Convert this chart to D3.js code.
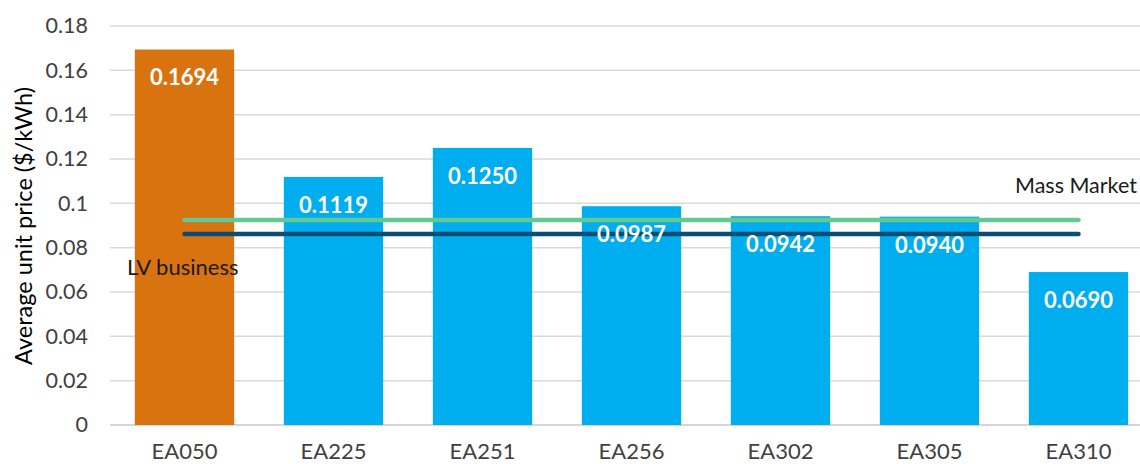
<!DOCTYPE html>
<html>
<head>
<meta charset="utf-8">
<script src="https://cdn.jsdelivr.net/npm/d3@7/dist/d3.min.js"></script>
<style>
  html, body { margin: 0; padding: 0; background: #ffffff; }
  svg { display: block; font-family: Lato, "Open Sans", sans-serif; }
</style>
</head>
<body>
<svg id="chart" width="1140" height="464"></svg>
<script>
// Average unit price per tariff, with segment benchmarks
const categories = ["EA050", "EA225", "EA251", "EA256", "EA302", "EA305", "EA310"];
const prices = [0.1694, 0.1119, 0.1250, 0.0987, 0.0942, 0.0940, 0.0690];
const benchmarkNames = ["Mass Market", "LV business"];
const benchmarkValues = [0.0925, 0.0862];
const yTicks = [0, 0.02, 0.04, 0.06, 0.08, 0.1, 0.12, 0.14, 0.16, 0.18];

const svg = d3.select("#chart");
const plotLeft = 110, plotRight = 1153, plotTop = 26, plotBottom = 425;

const x = d3.scaleBand()
  .domain(categories)
  .range([plotLeft, plotRight])
  .paddingInner(1 / 3)
  .paddingOuter(1 / 6);

const y = d3.scaleLinear().domain([0, 0.18]).range([plotBottom, plotTop]);

// Horizontal gridlines
svg.append("g")
  .selectAll("line")
  .data(yTicks)
  .join("line")
  .attr("x1", plotLeft)
  .attr("x2", 1140)
  .attr("y1", d => y(d))
  .attr("y2", d => y(d))
  .attr("stroke", d => d === 0 ? "#c8c8c8" : "#d9d9d9")
  .attr("stroke-width", 1.5);

// Y axis tick labels
const yAxis = d3.axisLeft(y)
  .tickValues(yTicks)
  .tickSize(0)
  .tickPadding(0)
  .tickFormat(d => String(+d.toFixed(2)));
const gy = svg.append("g")
  .attr("transform", "translate(88,0)")
  .call(yAxis);
gy.select(".domain").remove();
gy.selectAll("text")
  .attr("font-family", "Lato, sans-serif")
  .attr("font-size", 21.5)
  .attr("fill", "#404040");

// X axis category labels
const xAxis = d3.axisBottom(x).tickSize(0).tickPadding(0);
const gx = svg.append("g")
  .attr("transform", `translate(0,${plotBottom + 18})`)
  .call(xAxis);
gx.select(".domain").remove();
gx.selectAll("text")
  .attr("font-family", "Lato, sans-serif")
  .attr("font-size", 22)
  .attr("fill", "#404040");

// Y axis title
svg.append("text")
  .attr("transform", "translate(32,226) rotate(-90)")
  .attr("text-anchor", "middle")
  .attr("font-size", 23.5)
  .attr("fill", "#000000")
  .text("Average unit price ($/kWh)");

// Bars
svg.append("g")
  .selectAll("rect")
  .data(categories)
  .join("rect")
  .attr("x", d => x(d))
  .attr("width", x.bandwidth())
  .attr("y", (d, i) => y(prices[i]))
  .attr("height", (d, i) => y(0) - y(prices[i]))
  .attr("fill", (d, i) => i === 0 ? "#D9730F" : "#00AEEF");

// Benchmark lines across the category centres
const lineColors = ["#62C993", "#0C4E73"];
const xStart = x(categories[0]) + x.bandwidth() / 2;
const xEnd = x(categories[categories.length - 1]) + x.bandwidth() / 2;
svg.append("g")
  .selectAll("line")
  .data(benchmarkValues)
  .join("line")
  .attr("x1", xStart)
  .attr("x2", xEnd)
  .attr("y1", d => y(d))
  .attr("y2", d => y(d))
  .attr("stroke", (d, i) => lineColors[i])
  .attr("stroke-width", 4.5)
  .attr("stroke-linecap", "round");

// Value labels inside bar tops
svg.append("g")
  .selectAll("text")
  .data(categories)
  .join("text")
  .attr("x", d => x(d) + x.bandwidth() / 2)
  .attr("y", (d, i) => y(prices[i]) + 28)
  .attr("dy", "0.36em")
  .attr("text-anchor", "middle")
  .attr("font-size", 22)
  .attr("font-weight", "bold")
  .attr("fill", "#ffffff")
  .text((d, i) => prices[i].toFixed(4));

// Benchmark labels
svg.append("text")
  .attr("x", 1015)
  .attr("y", 193)
  .attr("font-size", 21.5)
  .attr("fill", "#1a1a1a")
  .text(benchmarkNames[0]);

svg.append("text")
  .attr("x", 127)
  .attr("y", 275)
  .attr("font-size", 22)
  .attr("fill", "#1a1a1a")
  .text(benchmarkNames[1]);
</script>
</body>
</html>
